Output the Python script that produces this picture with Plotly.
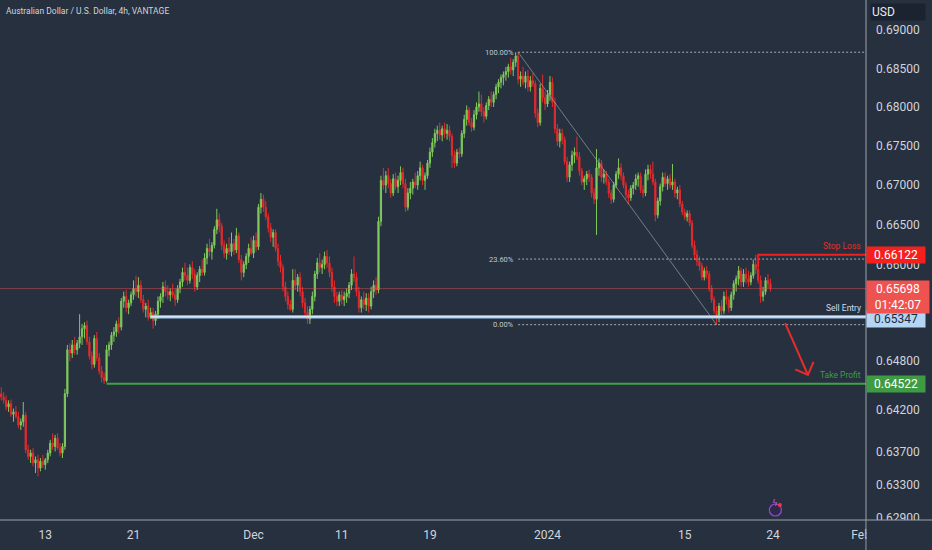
import numpy as np
import plotly.graph_objects as go

# AUD/USD 4h candles, prices in pips (1e-4)
OPEN = [
    6440, 6436, 6432, 6424, 6428, 6415, 6418, 6412, 6402, 6406,
    6414, 6372, 6364, 6368, 6356, 6360, 6350, 6358, 6354, 6360,
    6368, 6380, 6376, 6386, 6374, 6368, 6376, 6440, 6494, 6490,
    6500, 6494, 6502, 6510, 6520, 6524, 6504, 6486, 6476, 6508,
    6484, 6468, 6460, 6456, 6494, 6500, 6512, 6516, 6526, 6522,
    6554, 6560, 6546, 6552, 6562, 6570, 6566, 6574, 6556, 6544,
    6548, 6534, 6540, 6530, 6538, 6554, 6560, 6572, 6566, 6562,
    6566, 6562, 6556, 6570, 6578, 6590, 6586, 6580, 6596, 6588,
    6572, 6586, 6594, 6590, 6608, 6620, 6616, 6624, 6644, 6656,
    6648, 6624, 6614, 6620, 6616, 6626, 6618, 6636, 6606, 6590,
    6600, 6610, 6620, 6614, 6630, 6622, 6672, 6682, 6672, 6660,
    6646, 6634, 6640, 6620, 6604, 6596, 6572, 6560, 6550, 6544,
    6580, 6574, 6584, 6566, 6552, 6540, 6532, 6544, 6560, 6588,
    6602, 6596, 6600, 6610, 6602, 6590, 6572, 6560, 6554, 6562,
    6556, 6560, 6564, 6574, 6588, 6584, 6566, 6546, 6556, 6550,
    6558, 6548, 6566, 6574, 6568, 6654, 6706, 6700, 6712, 6702,
    6690, 6708, 6698, 6706, 6716, 6702, 6672, 6690, 6696, 6704,
    6700, 6712, 6722, 6706, 6712, 6728, 6742, 6754, 6766, 6770,
    6764, 6772, 6766, 6770, 6762, 6738, 6728, 6742, 6740, 6766,
    6784, 6796, 6780, 6774, 6790, 6800, 6804, 6794, 6788, 6802,
    6810, 6806, 6816, 6826, 6832, 6838, 6842, 6846, 6852, 6848,
    6858, 6866, 6836, 6840, 6832, 6840, 6826, 6834, 6830, 6792,
    6780, 6824, 6812, 6804, 6816, 6832, 6806, 6772, 6756, 6766,
    6758, 6730, 6710, 6726, 6738, 6742, 6736, 6718, 6704, 6708,
    6714, 6710, 6690, 6682, 6722, 6728, 6710, 6714, 6704, 6690,
    6682, 6700, 6714, 6722, 6712, 6700, 6688, 6684, 6696, 6700,
    6708, 6712, 6694, 6690, 6714, 6720, 6714, 6704, 6662, 6680,
    6698, 6710, 6702, 6708, 6700, 6704, 6690, 6694, 6676, 6666,
    6660, 6664, 6652, 6624, 6612, 6604, 6598, 6584, 6592, 6588,
    6570, 6556, 6542, 6534, 6548, 6542, 6560, 6556, 6546, 6562,
    6576, 6582, 6592, 6578, 6588, 6582, 6578, 6586, 6600, 6594,
    6580, 6560, 6566, 6580, 6576,
]
HIGH = [
    6448, 6442, 6438, 6432, 6433, 6422, 6425, 6418, 6410, 6430,
    6418, 6378, 6372, 6374, 6364, 6366, 6362, 6366, 6362, 6372,
    6384, 6392, 6390, 6392, 6380, 6380, 6446, 6500, 6502, 6506,
    6510, 6506, 6538, 6526, 6528, 6530, 6510, 6492, 6512, 6516,
    6490, 6474, 6466, 6500, 6504, 6516, 6522, 6530, 6534, 6558,
    6566, 6568, 6556, 6566, 6580, 6586, 6584, 6580, 6562, 6552,
    6556, 6546, 6546, 6542, 6560, 6564, 6578, 6580, 6574, 6570,
    6576, 6570, 6574, 6582, 6596, 6602, 6596, 6600, 6604, 6594,
    6590, 6598, 6606, 6614, 6626, 6632, 6628, 6648, 6670, 6664,
    6652, 6630, 6626, 6634, 6640, 6632, 6646, 6640, 6612, 6604,
    6614, 6626, 6634, 6636, 6640, 6676, 6690, 6688, 6680, 6664,
    6652, 6644, 6644, 6626, 6612, 6600, 6578, 6566, 6556, 6594,
    6594, 6588, 6590, 6572, 6558, 6548, 6548, 6566, 6592, 6608,
    6614, 6606, 6616, 6618, 6610, 6596, 6580, 6566, 6566, 6568,
    6566, 6570, 6578, 6594, 6610, 6590, 6572, 6560, 6566, 6564,
    6564, 6572, 6580, 6584, 6660, 6712, 6722, 6718, 6722, 6708,
    6714, 6716, 6712, 6724, 6722, 6708, 6696, 6704, 6708, 6716,
    6718, 6730, 6726, 6716, 6732, 6748, 6760, 6772, 6776, 6780,
    6776, 6780, 6778, 6776, 6766, 6744, 6746, 6748, 6770, 6790,
    6802, 6800, 6786, 6796, 6806, 6820, 6816, 6800, 6806, 6814,
    6820, 6820, 6830, 6836, 6842, 6846, 6852, 6856, 6864, 6862,
    6871, 6871, 6846, 6852, 6846, 6848, 6840, 6844, 6834, 6798,
    6830, 6842, 6820, 6822, 6840, 6838, 6812, 6778, 6772, 6772,
    6762, 6736, 6730, 6744, 6748, 6762, 6742, 6722, 6712, 6718,
    6720, 6714, 6696, 6746, 6734, 6732, 6720, 6718, 6708, 6694,
    6704, 6718, 6734, 6728, 6716, 6704, 6694, 6700, 6704, 6714,
    6716, 6716, 6700, 6720, 6726, 6726, 6730, 6708, 6684, 6702,
    6716, 6716, 6712, 6714, 6727, 6708, 6698, 6700, 6680, 6670,
    6668, 6668, 6656, 6630, 6618, 6610, 6602, 6596, 6598, 6592,
    6574, 6560, 6548, 6552, 6556, 6566, 6568, 6560, 6566, 6580,
    6586, 6598, 6596, 6594, 6596, 6592, 6590, 6606, 6612, 6600,
    6586, 6572, 6584, 6588, 6582,
]
LOW = [
    6432, 6428, 6420, 6418, 6412, 6406, 6410, 6398, 6396, 6400,
    6368, 6360, 6356, 6352, 6344, 6340, 6346, 6350, 6348, 6356,
    6364, 6372, 6370, 6372, 6364, 6362, 6372, 6436, 6480, 6484,
    6488, 6488, 6496, 6500, 6508, 6500, 6482, 6470, 6472, 6480,
    6464, 6454, 6452, 6454, 6486, 6494, 6504, 6510, 6514, 6518,
    6546, 6540, 6538, 6548, 6556, 6560, 6558, 6552, 6540, 6534,
    6530, 6532, 6520, 6524, 6532, 6546, 6552, 6560, 6556, 6554,
    6558, 6548, 6552, 6564, 6572, 6580, 6574, 6576, 6582, 6566,
    6568, 6578, 6586, 6586, 6600, 6610, 6606, 6620, 6638, 6640,
    6618, 6608, 6606, 6612, 6610, 6612, 6614, 6602, 6580, 6584,
    6594, 6602, 6612, 6608, 6616, 6618, 6664, 6666, 6656, 6640,
    6628, 6622, 6616, 6598, 6590, 6566, 6554, 6544, 6542, 6540,
    6568, 6566, 6560, 6546, 6536, 6526, 6526, 6538, 6554, 6582,
    6590, 6588, 6594, 6596, 6584, 6566, 6552, 6548, 6548, 6550,
    6548, 6552, 6558, 6568, 6578, 6560, 6540, 6540, 6544, 6542,
    6540, 6544, 6558, 6562, 6564, 6648, 6694, 6690, 6696, 6684,
    6686, 6694, 6690, 6700, 6696, 6666, 6668, 6682, 6688, 6696,
    6694, 6706, 6700, 6694, 6708, 6722, 6736, 6748, 6756, 6758,
    6756, 6760, 6758, 6756, 6722, 6722, 6724, 6734, 6736, 6760,
    6776, 6776, 6768, 6770, 6784, 6794, 6788, 6780, 6784, 6796,
    6800, 6800, 6810, 6818, 6824, 6828, 6834, 6838, 6842, 6840,
    6852, 6830, 6826, 6828, 6824, 6820, 6820, 6826, 6786, 6774,
    6776, 6806, 6796, 6800, 6808, 6800, 6766, 6750, 6748, 6752,
    6726, 6704, 6704, 6718, 6728, 6732, 6712, 6700, 6694, 6700,
    6704, 6684, 6676, 6637, 6712, 6704, 6702, 6700, 6684, 6676,
    6678, 6696, 6708, 6706, 6696, 6682, 6676, 6680, 6688, 6694,
    6698, 6690, 6684, 6686, 6706, 6708, 6700, 6654, 6658, 6674,
    6692, 6698, 6694, 6696, 6694, 6684, 6682, 6672, 6662, 6656,
    6654, 6648, 6620, 6606, 6598, 6592, 6580, 6580, 6582, 6566,
    6552, 6538, 6525, 6528, 6536, 6538, 6550, 6540, 6542, 6556,
    6566, 6574, 6572, 6572, 6576, 6572, 6574, 6582, 6588, 6576,
    6552, 6554, 6562, 6570, 6566,
]
CLOSE = [
    6436, 6432, 6424, 6428, 6415, 6418, 6412, 6402, 6406, 6414,
    6372, 6364, 6368, 6356, 6360, 6350, 6358, 6354, 6360, 6368,
    6380, 6376, 6386, 6374, 6368, 6376, 6440, 6494, 6490, 6500,
    6494, 6502, 6510, 6520, 6524, 6504, 6486, 6476, 6508, 6484,
    6468, 6460, 6456, 6494, 6500, 6512, 6516, 6526, 6522, 6554,
    6560, 6546, 6552, 6562, 6570, 6566, 6574, 6556, 6544, 6548,
    6534, 6540, 6530, 6538, 6554, 6560, 6572, 6566, 6562, 6566,
    6562, 6556, 6570, 6578, 6590, 6586, 6580, 6596, 6588, 6572,
    6586, 6594, 6590, 6608, 6620, 6616, 6624, 6644, 6656, 6648,
    6624, 6614, 6620, 6616, 6626, 6618, 6636, 6606, 6590, 6600,
    6610, 6620, 6614, 6630, 6622, 6672, 6682, 6672, 6660, 6646,
    6634, 6640, 6620, 6604, 6596, 6572, 6560, 6550, 6544, 6580,
    6574, 6584, 6566, 6552, 6540, 6532, 6544, 6560, 6588, 6602,
    6596, 6600, 6610, 6602, 6590, 6572, 6560, 6554, 6562, 6556,
    6560, 6564, 6574, 6588, 6584, 6566, 6546, 6556, 6550, 6558,
    6548, 6566, 6574, 6568, 6654, 6706, 6700, 6712, 6702, 6690,
    6708, 6698, 6706, 6716, 6702, 6672, 6690, 6696, 6704, 6700,
    6712, 6722, 6706, 6712, 6728, 6742, 6754, 6766, 6770, 6764,
    6772, 6766, 6770, 6762, 6738, 6728, 6742, 6740, 6766, 6784,
    6796, 6780, 6774, 6790, 6800, 6804, 6794, 6788, 6802, 6810,
    6806, 6816, 6826, 6832, 6838, 6842, 6846, 6852, 6848, 6858,
    6866, 6836, 6840, 6832, 6840, 6826, 6834, 6830, 6792, 6780,
    6824, 6812, 6804, 6816, 6832, 6806, 6772, 6756, 6766, 6758,
    6730, 6710, 6726, 6738, 6742, 6736, 6718, 6704, 6708, 6714,
    6710, 6690, 6682, 6722, 6728, 6710, 6714, 6704, 6690, 6682,
    6700, 6714, 6722, 6712, 6700, 6688, 6684, 6696, 6700, 6708,
    6712, 6694, 6690, 6714, 6720, 6714, 6704, 6662, 6680, 6698,
    6710, 6702, 6708, 6700, 6704, 6690, 6694, 6676, 6666, 6660,
    6664, 6652, 6624, 6612, 6604, 6598, 6584, 6592, 6588, 6570,
    6556, 6542, 6534, 6548, 6542, 6560, 6556, 6546, 6562, 6576,
    6582, 6592, 6578, 6588, 6582, 6578, 6586, 6600, 6594, 6580,
    6560, 6566, 6580, 6576, 6570,
]

# date axis: label text and the bar index it sits on
TICK_BARS = [18, 54, 103, 139, 175, 223, 279, 315, 351]
TICK_TEXT = ["13", "21", "Dec", "11", "19", "2024", "15", "24", "Feb"]

# price scale (log) labels
PRICE_TICKS = [0.69, 0.685, 0.68, 0.675, 0.67, 0.665, 0.66,
               0.648, 0.642, 0.637, 0.633, 0.629]

# drawings on the chart
STOP_LOSS = 0.66122
SL_CORNER = 0.6597
LAST_PRICE = 0.65698
COUNTDOWN = "01:42:07"
SELL_ENTRY = 0.65347
TAKE_PROFIT = 0.64522
FIB_HIGH, FIB_LOW = 0.6871, 0.6525
FIB_LEVELS = [1.0, 0.236, 0.0]
FIB_HIGH_BAR, FIB_LOW_BAR = 211, 292
SELL_BAR, TP_BAR, SL_BAR = 61, 43, 309
ARROW_X = [320.0, 329.3, None, 324.1, 329.3, 331.6]
ARROW_Y = [0.6527, 0.6463, None, 0.6470, 0.6463, 0.6479]

BG = "#26303e"
TXT = "#d1d4dc"
GREEN = "#80c95c"
RED = "#e62a2c"
FONT = "Roboto"
X_MAX = 353
Y_LO, Y_HI = 0.62877, 0.69394

bars = np.arange(len(CLOSE))
pip = lambda v: np.array(v) / 10000.0

fig = go.Figure()
fig.add_trace(go.Candlestick(
    x=bars, open=pip(OPEN), high=pip(HIGH), low=pip(LOW), close=pip(CLOSE),
    increasing=dict(line=dict(color=GREEN, width=1), fillcolor=GREEN),
    decreasing=dict(line=dict(color=RED, width=1), fillcolor=RED),
    whiskerwidth=0, hoverinfo="skip", showlegend=False,
))


def hline(x0, y, color, width, dash="solid"):
    fig.add_trace(go.Scatter(x=[x0, X_MAX + 2], y=[y, y], mode="lines",
                             line=dict(color=color, width=width, dash=dash),
                             hoverinfo="skip", showlegend=False))


# last price line
hline(-2, LAST_PRICE, "rgba(239,83,80,0.45)", 1)

# fibonacci retracement
ann = []
for lv in FIB_LEVELS:
    p = FIB_LOW + lv * (FIB_HIGH - FIB_LOW)
    hline(FIB_HIGH_BAR, p, "rgba(190,194,202,0.85)", 1, "2px,2px")
    ann.append(dict(x=FIB_HIGH_BAR, y=np.log10(p), xref="x", yref="y",
                    text=f"{lv * 100:.2f}%", showarrow=False, xanchor="right",
                    xshift=-2, font=dict(family=FONT, size=7.5, color="#c3c7cf")))
fig.add_trace(go.Scatter(x=[FIB_HIGH_BAR, FIB_LOW_BAR], y=[FIB_HIGH, FIB_LOW],
                         mode="lines", line=dict(color="rgba(170,175,185,0.6)", width=1),
                         hoverinfo="skip", showlegend=False))

# trade levels
hline(TP_BAR, TAKE_PROFIT, "#43a047", 2)
hline(SELL_BAR, SELL_ENTRY, "#9ec8f2", 3.2)
hline(SELL_BAR, SELL_ENTRY, "#eef5fc", 1)
fig.add_trace(go.Scatter(x=[SL_BAR, SL_BAR, X_MAX + 2], y=[SL_CORNER, STOP_LOSS, STOP_LOSS],
                         mode="lines", line=dict(color="#f21f1f", width=2),
                         hoverinfo="skip", showlegend=False))
fig.add_trace(go.Scatter(x=ARROW_X, y=ARROW_Y, mode="lines",
                         line=dict(color="#e52d2d", width=2),
                         hoverinfo="skip", showlegend=False))

lbl = dict(xref="paper", x=1, xanchor="right", xshift=-3, yref="y",
           yanchor="bottom", showarrow=False)
ann.append(dict(lbl, y=np.log10(STOP_LOSS), yshift=2, text="Stop Loss",
                font=dict(family=FONT, size=8.5, color="#e0302a")))
ann.append(dict(lbl, y=np.log10(SELL_ENTRY), yshift=2, text="Sell Entry",
                font=dict(family=FONT, size=8.5, color="#c6dbf0")))
ann.append(dict(lbl, y=np.log10(TAKE_PROFIT), yshift=2, text="Take Profit",
                font=dict(family=FONT, size=8.5, color="#3f9c46")))

# price boxes on the scale
box = dict(xref="paper", x=1, xanchor="left", yref="y", showarrow=False,
           align="center", borderpad=1, width=56)
ann.append(dict(box, y=np.log10(STOP_LOSS), text=f"{STOP_LOSS:.5f}", bgcolor="#f5201e",
                font=dict(family=FONT, size=12, color="white")))
ann.append(dict(box, y=np.log10(SELL_ENTRY), yshift=-2, text=f"{SELL_ENTRY:.5f}",
                bgcolor="#b5d5f5", font=dict(family=FONT, size=12, color="#1c2a3d")))
ann.append(dict(box, y=np.log10(LAST_PRICE), yanchor="top", yshift=9, width=60,
                text=f"{LAST_PRICE:.5f}<br>{COUNTDOWN}", bgcolor="#ef5350",
                font=dict(family=FONT, size=12, color="white")))
ann.append(dict(box, y=np.log10(TAKE_PROFIT), text=f"{TAKE_PROFIT:.5f}", bgcolor="#3f9b43",
                font=dict(family=FONT, size=12, color="white")))
ann.append(dict(xref="paper", yref="paper", x=1, y=1, xanchor="left", yanchor="top",
                xshift=4, yshift=-3, text="USD", showarrow=False, align="left",
                width=52, borderpad=1, bgcolor="#1b2230",
                font=dict(family=FONT, size=12, color="#e8eaef")))

# title
ann.append(dict(xref="paper", yref="paper", x=0, y=1, xanchor="left", yanchor="top",
                xshift=4, yshift=-4, text="Australian Dollar / U.S. Dollar, 4h, VANTAGE",
                showarrow=False, font=dict(family=FONT, size=8.5, color=TXT)))

# event icon
icon_y = 10 / 520
ann.append(dict(xref="x", yref="paper", x=316, y=icon_y, text="ϟ", showarrow=False,
                font=dict(family="DejaVu Sans", size=9, color="#b463e8")))

shapes = [
    dict(type="line", xref="paper", yref="paper", x0=1, x1=1, y0=-30 / 520, y1=1,
         line=dict(color="#9ea3ad", width=1)),
    dict(type="rect", xref="paper", yref="paper", x0=1.001, x1=932 / 866, y0=-30 / 520, y1=0,
         fillcolor=BG, line=dict(width=0), layer="above"),
    dict(type="line", xref="paper", yref="paper", x0=0, x1=932 / 866, y0=0, y1=0,
         line=dict(color="#9ea3ad", width=1)),
    dict(type="circle", xref="x", yref="paper", xsizemode="pixel", ysizemode="pixel",
         xanchor=316, yanchor=icon_y, x0=-6, x1=6, y0=-6, y1=6,
         fillcolor="#2b2a48", line=dict(color="#9c46d2", width=1.2)),
    dict(type="circle", xref="x", yref="paper", xsizemode="pixel", ysizemode="pixel",
         xanchor=316, yanchor=icon_y, x0=2.5, x1=6.5, y0=3, y1=7,
         fillcolor="#f23645", line=dict(width=0)),
]

fig.update_layout(
    width=932, height=550,
    margin=dict(l=0, r=66, t=0, b=30),
    paper_bgcolor=BG, plot_bgcolor=BG,
    font=dict(family=FONT, color=TXT),
    showlegend=False, hovermode=False,
    annotations=ann, shapes=shapes,
    xaxis=dict(range=[-0.5, X_MAX], rangeslider=dict(visible=False),
               tickvals=TICK_BARS, ticktext=TICK_TEXT, ticks="",
               showgrid=False, zeroline=False, showline=False,
               ticklabelstandoff=6, tickfont=dict(family=FONT, size=12, color=TXT)),
    yaxis=dict(type="log", side="right", range=[np.log10(Y_LO), np.log10(Y_HI)],
               tickvals=PRICE_TICKS, ticktext=[f"{v:.5f}" for v in PRICE_TICKS],
               ticks="", showgrid=False, zeroline=False, showline=False,
               ticklabelstandoff=9, tickfont=dict(family=FONT, size=12, color=TXT)),
)

# drop the page's default body margin so the chart sits at the window corner
fig.write_html("out.html", config={"displayModeBar": False},
               post_script="document.body.style.margin='0';")
